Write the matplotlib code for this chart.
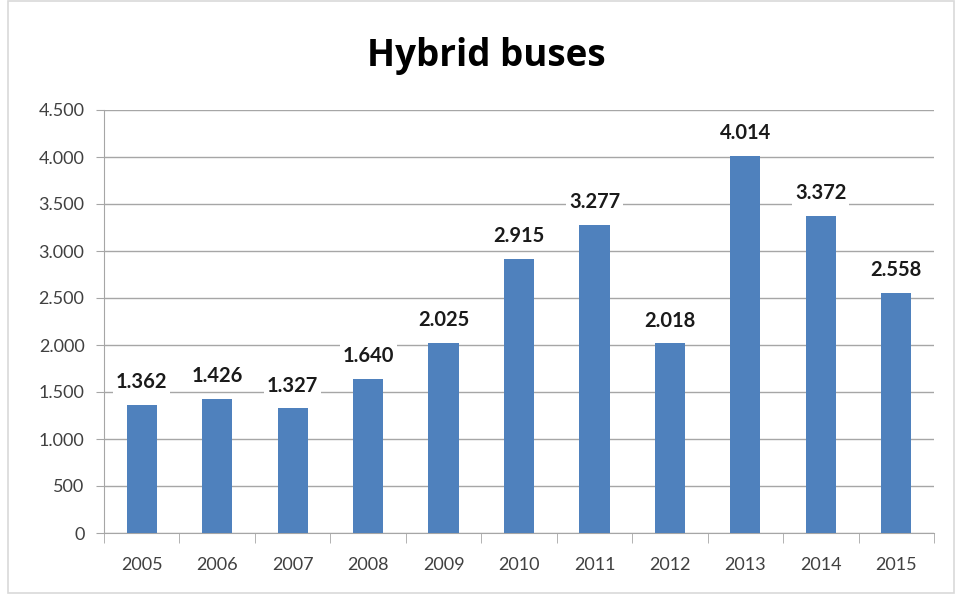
import matplotlib.pyplot as plt
from matplotlib.patches import Rectangle

years = ['2005', '2006', '2007', '2008', '2009', '2010', '2011', '2012', '2013', '2014', '2015']
buses = [1362, 1426, 1327, 1640, 2025, 2915, 3277, 2018, 4014, 3372, 2558]
y_ticks = [0, 500, 1000, 1500, 2000, 2500, 3000, 3500, 4000, 4500]

plt.rcParams['font.family'] = ['Lato', 'DejaVu Sans']


def dotted(v):
    # thousands separator as a dot, like the original
    return f"{v:,}".replace(",", ".")


fig = plt.figure(figsize=(9.55, 5.95), dpi=100)
fig.patches.append(Rectangle((8 / 955, 2 / 595), 946 / 955, 592 / 595, transform=fig.transFigure,
                             fill=False, edgecolor='#d9d9d9', linewidth=1.2))

ax = fig.add_axes([104 / 955, 62 / 595, 830 / 955, 423 / 595])
x = list(range(len(years)))
ax.bar(x, buses, width=0.4, color='#4f81bd', zorder=3)

for xi, v in zip(x, buses):
    ax.text(xi, v + 240, dotted(v), ha='center', va='center', fontsize=14.5, fontweight='bold',
            color='#1a1a1a', zorder=4,
            bbox=dict(facecolor='white', edgecolor='none', pad=2))

ax.set_xlim(-0.5, len(years) - 0.5)
ax.set_ylim(0, 4500)
ax.set_yticks(y_ticks)
ax.set_yticklabels([dotted(t) for t in y_ticks], fontsize=13, color='#404040')
ax.set_xticks(x)
ax.set_xticklabels(years, fontsize=13, color='#404040')
ax.set_xticks([i - 0.5 for i in range(len(years) + 1)], minor=True)
ax.tick_params(axis='x', which='major', length=0, pad=17)
ax.tick_params(axis='x', which='minor', length=7, color='#a6a6a6')
ax.tick_params(axis='y', length=6, color='#a6a6a6', pad=8)

ax.grid(axis='y', color='#a6a6a6', linewidth=1, zorder=0)
for s in ['top', 'right']:
    ax.spines[s].set_visible(False)
ax.spines['left'].set_color('#a6a6a6')
ax.spines['bottom'].set_color('#a6a6a6')

fig.text(486 / 955, 1 - 56 / 595, 'Hybrid buses', ha='center', va='center',
         fontsize=26.5, fontweight='bold', color='black', family=['Open Sans', 'DejaVu Sans'])

fig.savefig('out.png', dpi=100)
